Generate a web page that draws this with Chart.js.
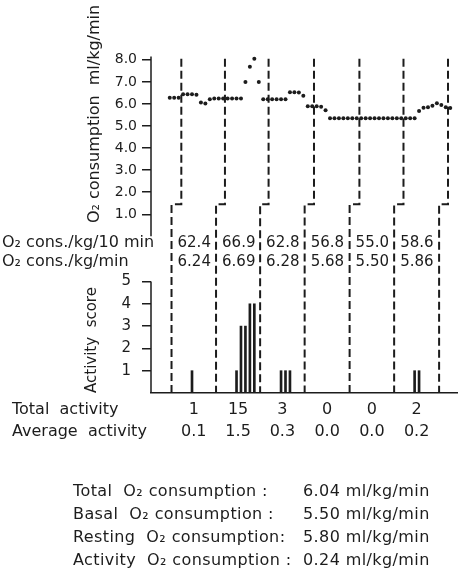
<!DOCTYPE html>
<html>
<head>
<meta charset="utf-8">
<script src="https://cdn.jsdelivr.net/npm/chart.js@4.4.1/dist/chart.umd.min.js"></script>
<style>
  html, body { margin: 0; padding: 0; background: #fff; }
  #wrap { position: relative; width: 461px; height: 572px; overflow: hidden; }
  #chart { position: absolute; left: 0; top: 0; }
  .sum { position: absolute; font: 16px "DejaVu Sans", sans-serif; color: #1c1c1c; white-space: pre; line-height: 23px; letter-spacing: 0.4px; }
</style>
</head>
<body>
<div id="wrap">
  <canvas id="chart" width="461" height="572"></canvas>
  <div class="sum" id="sumLabels" style="left:73px; top:479px"></div>
  <div class="sum" id="sumValues" style="left:303px; top:479px"></div>
</div>
<script>
// minute-by-minute O2 consumption (ml/kg/min), minute 0..63
const O2_PER_MIN = [
  6.28, 6.28, 6.28, 6.44, 6.44, 6.44, 6.42, 6.07, 6.02, 6.22,
  6.25, 6.25, 6.25, 6.25, 6.25, 6.25, 6.25, 7.00, 7.69, 8.05,
  7.00, 6.22, 6.22, 6.22, 6.22, 6.22, 6.22, 6.53, 6.53, 6.52,
  6.37, 5.90, 5.90, 5.90, 5.88, 5.72, 5.35, 5.35, 5.35, 5.35,
  5.35, 5.35, 5.35, 5.35, 5.35, 5.35, 5.35, 5.35, 5.35, 5.35,
  5.35, 5.35, 5.35, 5.35, 5.35, 5.35, 5.68, 5.83, 5.85, 5.92,
  6.03, 5.95, 5.85, 5.82
];

// activity scores (only minutes with activity)
const ACT_MINUTES = [5, 15, 16, 17, 18, 19, 25, 26, 27, 55, 56];
const ACT_SCORES  = [1, 1, 3, 3, 4, 4, 1, 1, 1, 1, 1];

// 10-min period boundaries (activity record / delayed O2 record)
const LOWER_BOUNDS = [0.4, 10.4, 20.3, 30.3, 40.4, 50.4, 60.5];
const UPPER_BOUNDS = [2.6, 12.4, 22.2, 32.4, 42.6, 52.5, 62.5];

const O2_TICKS = [1, 2, 3, 4, 5, 6, 7, 8];
const ACT_TICKS = [1, 2, 3, 4, 5];

const O2_PER_10MIN = [62.4, 66.9, 62.8, 56.8, 55.0, 58.6];
const O2_PER_KG_MIN = [6.24, 6.69, 6.28, 5.68, 5.50, 5.86];
const TOTAL_ACTIVITY = [1, 15, 3, 0, 0, 2];
const AVG_ACTIVITY = [0.1, 1.5, 0.3, 0.0, 0.0, 0.2];

const SUMMARY_LABELS = ['Total  O₂ consumption :', 'Basal  O₂ consumption :', 'Resting  O₂ consumption:', 'Activity  O₂ consumption :'];
const SUMMARY_VALUES = [6.04, 5.50, 5.80, 0.24];

const INK = '#1c1c1c';
const FONT = '"DejaVu Sans", sans-serif';

const X_MIN = -4.21, X_MAX = 64.52;
const O2_MIN = -7.10, O2_MAX = 8.90;
const ACT_MIN = 0, ACT_MAX = 15.83;
const DASH_TOP = 8.05, DASH_STEP = 1.45;

document.getElementById('sumLabels').textContent = SUMMARY_LABELS.join('\n');
document.getElementById('sumValues').textContent = SUMMARY_VALUES.map(v => v.toFixed(2) + ' ml/kg/min').join('\n');

const o2Points = O2_PER_MIN.map((v, i) => ({ x: i, y: v }));
const actBars = ACT_MINUTES.map((m, i) => ({ x: m, y: ACT_SCORES[i] }));

const boundaryPts = [];
LOWER_BOUNDS.forEach((lo, i) => {
  const up = UPPER_BOUNDS[i];
  boundaryPts.push({ x: up, y: DASH_TOP }, { x: up, y: DASH_STEP }, { x: lo, y: DASH_STEP }, { x: lo, y: O2_MIN }, { x: lo, y: null });
});

function rotatedText(ctx, text, x, y) {
  ctx.save();
  ctx.translate(x, y);
  ctx.rotate(-Math.PI / 2);
  ctx.fillText(text, 0, 0);
  ctx.restore();
}

const annotate = {
  id: 'annotate',
  afterLayout(chart) {
    // the activity axis has zero width so it sits on the O2 axis; let its labels use the O2 axis box
    chart.scales.yAct.left = chart.scales.yO2.left;
  },
  afterDraw(chart) {
    const { ctx, chartArea, scales: { x, yO2, yAct } } = chart;
    ctx.save();
    ctx.strokeStyle = INK;
    ctx.lineWidth = 1.5;
    ctx.beginPath();
    ctx.moveTo(chartArea.left, yO2.getPixelForValue(0));
    ctx.lineTo(chartArea.left, yO2.getPixelForValue(8.15));
    ctx.moveTo(chartArea.left, yAct.getPixelForValue(0));
    ctx.lineTo(chartArea.left, yAct.getPixelForValue(5));
    ctx.stroke();

    ctx.fillStyle = INK;
    ctx.textBaseline = 'middle';
    ctx.textAlign = 'left';
    ctx.font = '16px ' + FONT;
    rotatedText(ctx, 'O₂ consumption  ml/kg/min', 95, yO2.getPixelForValue(0.6));
    ctx.font = '15px ' + FONT;
    rotatedText(ctx, 'Activity  score', 92, yAct.getPixelForValue(0));

    ctx.font = '16px ' + FONT;
    ctx.fillText('O₂ cons./kg/10 min', 2, 243);
    ctx.fillText('O₂ cons./kg/min', 2, 262);
    ctx.fillText('Total  activity', 12, 410);
    ctx.fillText('Average  activity', 12, 432);

    for (let i = 0; i < O2_PER_10MIN.length; i++) {
      const left = x.getPixelForValue(LOWER_BOUNDS[i]);
      const mid = (left + x.getPixelForValue(LOWER_BOUNDS[i + 1])) / 2;
      ctx.font = '15px ' + FONT;
      ctx.textAlign = 'left';
      ctx.fillText(O2_PER_10MIN[i].toFixed(1), left + 6, 243);
      ctx.fillText(O2_PER_KG_MIN[i].toFixed(2), left + 6, 262);
      ctx.font = '16px ' + FONT;
      ctx.textAlign = 'center';
      ctx.fillText(String(TOTAL_ACTIVITY[i]), mid, 410);
      ctx.fillText(AVG_ACTIVITY[i].toFixed(1), mid, 432);
    }
    ctx.restore();
  }
};

new Chart(document.getElementById('chart'), {
  type: 'scatter',
  data: {
    datasets: [
      {
        type: 'scatter',
        data: o2Points,
        yAxisID: 'yO2',
        pointRadius: 2,
        pointBorderWidth: 0,
        pointBackgroundColor: INK
      },
      {
        type: 'bar',
        data: actBars,
        yAxisID: 'yAct',
        backgroundColor: INK,
        barThickness: 2,
        grouped: false
      },
      {
        type: 'line',
        data: boundaryPts,
        yAxisID: 'yO2',
        borderColor: INK,
        borderWidth: 2,
        borderDash: [8, 4],
        pointRadius: 0,
        spanGaps: false,
        tension: 0,
        clip: false
      }
    ]
  },
  options: {
    responsive: false,
    animation: false,
    events: [],
    layout: { padding: { top: 40, bottom: 179, left: 0, right: 0 } },
    plugins: { legend: { display: false }, tooltip: { enabled: false } },
    scales: {
      x: {
        type: 'linear', min: X_MIN, max: X_MAX, offset: false,
        grid: { display: false, drawTicks: false },
        ticks: { display: false },
        border: { display: true, color: INK, width: 1.5 }
      },
      yO2: {
        type: 'linear', position: 'left', weight: 1, min: O2_MIN, max: O2_MAX,
        afterBuildTicks: s => { s.ticks = O2_TICKS.map(v => ({ value: v })); },
        afterFit: s => { s.width = 151; },
        ticks: { autoSkip: false, padding: 5, color: INK, font: { family: FONT, size: 14 }, callback: v => v.toFixed(1) },
        grid: { display: true, drawOnChartArea: false, drawTicks: true, tickLength: 9, color: INK, lineWidth: 1.5 },
        border: { display: false }
      },
      yAct: {
        type: 'linear', position: 'left', weight: 0, min: ACT_MIN, max: ACT_MAX,
        afterBuildTicks: s => { s.ticks = ACT_TICKS.map(v => ({ value: v })); },
        afterFit: s => { s.width = 0; },
        ticks: { autoSkip: false, padding: 11, color: INK, font: { family: FONT, size: 15 }, callback: v => String(v) },
        grid: { display: true, drawOnChartArea: false, drawTicks: true, tickLength: 9, color: INK, lineWidth: 1.5 },
        border: { display: false }
      }
    }
  },
  plugins: [annotate]
});
</script>
</body>
</html>
